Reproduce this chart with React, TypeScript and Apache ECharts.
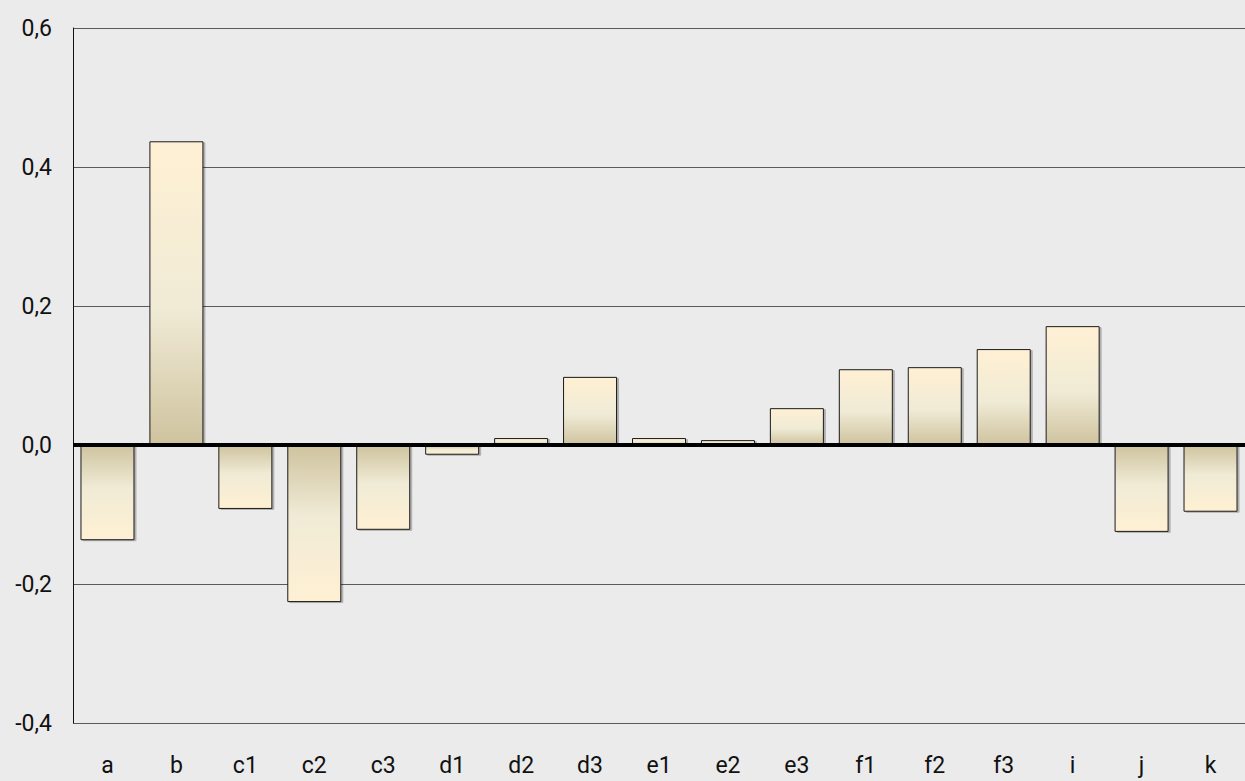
import React, { useEffect, useRef } from "react";
import * as echarts from "echarts";

const categories = ["a", "b", "c1", "c2", "c3", "d1", "d2", "d3", "e1", "e2", "e3", "f1", "f2", "f3", "i", "j", "k"];
const values = [-0.137, 0.437, -0.092, -0.226, -0.122, -0.014, 0.01, 0.098, 0.01, 0.007, 0.053, 0.109, 0.112, 0.138, 0.171, -0.125, -0.096];
const yTicks = { min: -0.4, max: 0.6, interval: 0.2 };

const CREAM = "#fff0d3";
const MID = "#f0ebd6";
const TAN = "#cfc39f";

function grad(v: number) {
  const stops = v >= 0
    ? [
        { offset: 0, color: CREAM },
        { offset: 0.55, color: MID },
        { offset: 1, color: TAN },
      ]
    : [
        { offset: 0, color: TAN },
        { offset: 0.45, color: MID },
        { offset: 1, color: CREAM },
      ];
  return new echarts.graphic.LinearGradient(0, 0, 0, 1, stops);
}

export default function App() {
  const ref = useRef<HTMLDivElement>(null);
  useEffect(() => {
    if (!ref.current) return;
    const chart = echarts.init(ref.current, null, { renderer: "svg" });
    const font = "Roboto, sans-serif";
    chart.setOption({
      animation: false,
      backgroundColor: "#ebebeb",
      grid: { left: 73, top: 28, right: 0, bottom: 58, containLabel: false },
      xAxis: {
        type: "category",
        data: categories,
        position: "bottom",
        axisLine: { show: false, onZero: false },
        axisTick: { show: false },
        axisLabel: { color: "#111", fontSize: 23, fontFamily: font, margin: 31 },
      },
      yAxis: {
        type: "value",
        min: yTicks.min,
        max: yTicks.max,
        interval: yTicks.interval,
        axisLine: { show: true, lineStyle: { color: "#111", width: 1 } },
        axisTick: { show: false },
        splitLine: { show: true, lineStyle: { color: "#5a5a5a", width: 1 } },
        axisLabel: {
          color: "#111",
          fontSize: 23,
          fontFamily: font,
          margin: 21,
          formatter: (v: number) => v.toFixed(1).replace(".", ","),
        },
      },
      series: [
        {
          type: "bar",
          barWidth: 54,
          data: values.map((v) => ({
            value: v,
            itemStyle: {
              color: grad(v),
              borderColor: "#1a1a1a",
              borderWidth: 1,
              shadowColor: "rgba(0,0,0,0.25)",
              shadowOffsetX: 2,
              shadowOffsetY: 1,
              shadowBlur: 0,
            },
          })),
          markLine: {
            silent: true,
            symbol: "none",
            label: { show: false },
            lineStyle: { color: "#000", width: 4, type: "solid" },
            data: [{ yAxis: 0 }],
          },
        },
      ],
    });
    return () => chart.dispose();
  }, []);
  return <div ref={ref} style={{ width: 1245, height: 781, position: "absolute", left: 0, top: 0 }} />;
}
